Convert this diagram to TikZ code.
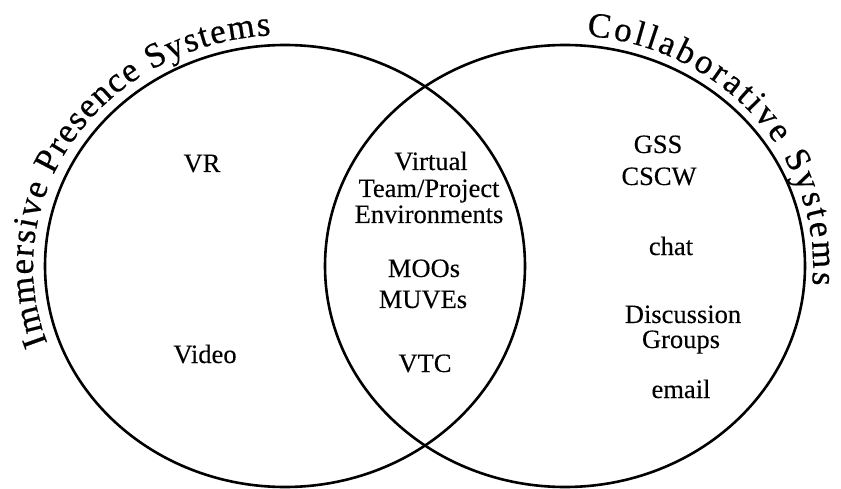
\documentclass[tikz,border=0pt]{standalone}
\usepackage{fontspec}
\setmainfont{Liberation Serif}
\usetikzlibrary{decorations.text}

% type sizes and weights
\newcommand{\itemsize}{\fontsize{26.5}{26.5}\selectfont\addfontfeature{FakeBold=0.2}}
\newcommand{\ttlsize}{\fontsize{35}{35}\selectfont\addfontfeature{FakeBold=0.5}}

\begin{document}
\begin{tikzpicture}[x=1pt, y=1pt,
  setline/.style={line width=2.6pt},
  entry/.style={font=\itemsize, anchor=base, inner sep=0pt}]

\useasboundingbox (0,0) rectangle (841,488);

% centres of the two sets
\coordinate (L) at (285,222);
\coordinate (R) at (565,222);

% the two overlapping sets
\draw[setline] (L) ellipse [x radius=240, y radius=221];
\draw[setline] (R) ellipse [x radius=240, y radius=221];

% set titles set along the outside of each outline
\path[decorate, decoration={text along path,
      text={|\ttlsize|Immersive Presence Systems},
      text align={fit to path}}]
  ([shift={(199.5:252 and 231)}]L)
  arc[start angle=199.5, end angle=93.2, x radius=252, y radius=231];

\path[decorate, decoration={text along path,
      text={|\ttlsize|Collaborative Systems},
      text align={fit to path}}]
  ([shift={(85:248 and 231)}]R)
  arc[start angle=85, end angle=-4.7, x radius=248, y radius=231];

% immersive presence only
\node[entry] (vr)    at (202,316) {VR};
\node[entry] (video) at (205,125) {Video};

% shared region
\node[entry] (virt)  at (431,318) {Virtual};
\node[entry] (team)  at (429,291) {Team/Project};
\node[entry] (env)   at (429,265) {Environments};
\node[entry] (moo)   at (424,211) {MOOs};
\node[entry] (muve)  at (423,180) {MUVEs};
\node[entry] (vtc)   at (425,116) {VTC};

% collaborative only
\node[entry] (gss)   at (658,335) {GSS};
\node[entry] (cscw)  at (659,303) {CSCW};
\node[entry] (chat)  at (671,233) {chat};
\node[entry] (disc)  at (683,165) {Discussion};
\node[entry] (grp)   at (681,140) {Groups};
\node[entry] (email) at (681,90)  {email};

\end{tikzpicture}
\end{document}
